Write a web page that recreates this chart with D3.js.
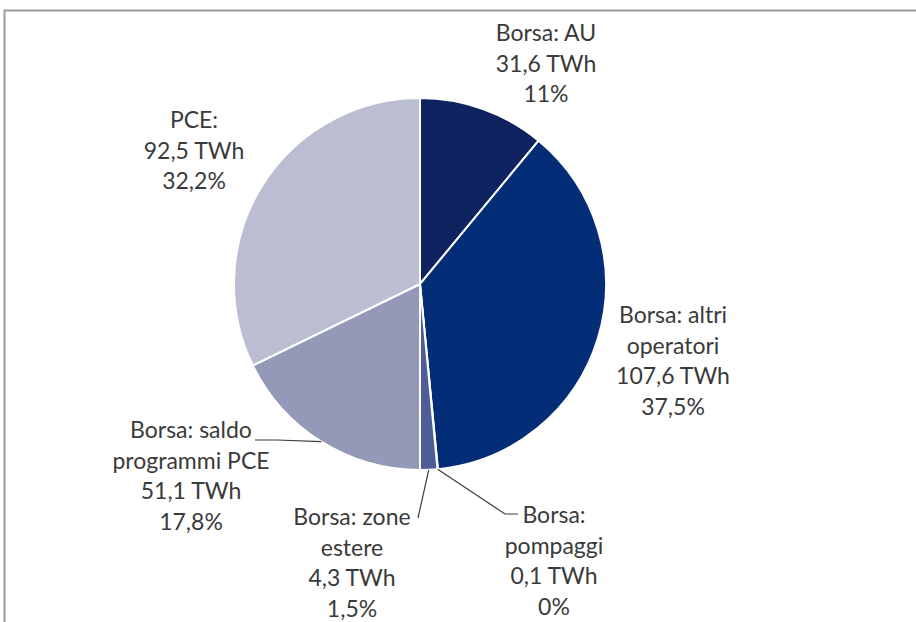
<!DOCTYPE html>
<meta charset="utf-8">
<head>
	<title>Borsa / PCE</title>
	<script type="text/javascript" src="https://cdn.jsdelivr.net/npm/d3@7/dist/d3.min.js"></script>
	<style>
		body { margin: 0; background: #fff; }
		.labels {
			font-family: Lato, "Open Sans", sans-serif;
			font-size: 23px;
			fill: #3a3a3a;
		}
		.leader {
			fill: none;
			stroke: #3a3a3a;
			stroke-width: 1.2;
		}
	</style>
</head>
<body>
	<div id="chart"></div>
	<script>
		// data, clockwise from 12 o'clock
		var names = ["Borsa: AU", "Borsa: altri operatori", "Borsa: pompaggi", "Borsa: zone estere", "Borsa: saldo programmi PCE", "PCE"];
		var twh = [31.6, 107.6, 0.1, 4.3, 51.1, 92.5];
		var pct = ["11%", "37,5%", "0%", "1,5%", "17,8%", "32,2%"];
		var twhLabels = ["31,6 TWh", "107,6 TWh", "0,1 TWh", "4,3 TWh", "51,1 TWh", "92,5 TWh"];
		// label lines as Excel wrapped them
		var nameLines = [["Borsa: AU"], ["Borsa: altri", "operatori"], ["Borsa:", "pompaggi"], ["Borsa: zone", "estere"], ["Borsa: saldo", "programmi PCE"], ["PCE:"]];
		var colors = ["#0f2361", "#042d77", "#2a3f8c", "#4e5c98", "#9599b8", "#bbbed2"];

		var width = 916, height = 622;
		var cx = 420, cy = 284, r = 186;

		var svg = d3.select("#chart").append("svg")
			.attr("width", width).attr("height", height);

		// chart area frame (only top and left edges are inside the picture)
		svg.append("path")
			.attr("d", "M4.5," + height + "V10.5H" + width)
			.style("fill", "none")
			.style("stroke", "#9a9a9a")
			.style("stroke-width", 2);

		var pie = d3.pie().sort(null).value(function (d) { return d; });
		var arcs = pie(twh);
		var arc = d3.arc().innerRadius(0).outerRadius(r);

		var g = svg.append("g").attr("transform", "translate(" + cx + "," + cy + ")");
		g.selectAll("path")
			.data(arcs)
			.enter()
			.append("path")
			.attr("d", arc)
			.attr("fill", function (d, i) { return colors[i]; })
			.style("stroke", "white")
			.style("stroke-width", 2);

		// label anchor (centre x, first baseline)
		var labelPos = [[546, 41], [673, 323], [554, 523], [352, 525], [191, 438], [194, 128]];
		var lineH = 30.5;

		labelPos.forEach(function (p, i) {
			var lines = nameLines[i].concat([twhLabels[i], pct[i]]);
			var t = svg.append("text").attr("class", "labels")
				.attr("text-anchor", "middle");
			lines.forEach(function (s, k) {
				t.append("tspan").attr("x", p[0]).attr("y", p[1] + k * lineH).text(s);
			});
		});

		// leader lines for small / outside labels
		function edgePoint(i) {
			var a = (arcs[i].startAngle + arcs[i].endAngle) / 2;
			return [cx + r * Math.sin(a), cy - r * Math.cos(a)];
		}
		var line = d3.line();
		var pSaldo = edgePoint(4);
		svg.append("path").attr("class", "leader")
			.attr("d", line([[255, 440], [277, 440], pSaldo]));
		var pZone = edgePoint(3);
		svg.append("path").attr("class", "leader")
			.attr("d", line([pZone, [418, 518]]));
		var pPomp = edgePoint(2);
		svg.append("path").attr("class", "leader")
			.attr("d", line([pPomp, [505, 514], [518, 514]]));
	</script>
</body>
</html>
